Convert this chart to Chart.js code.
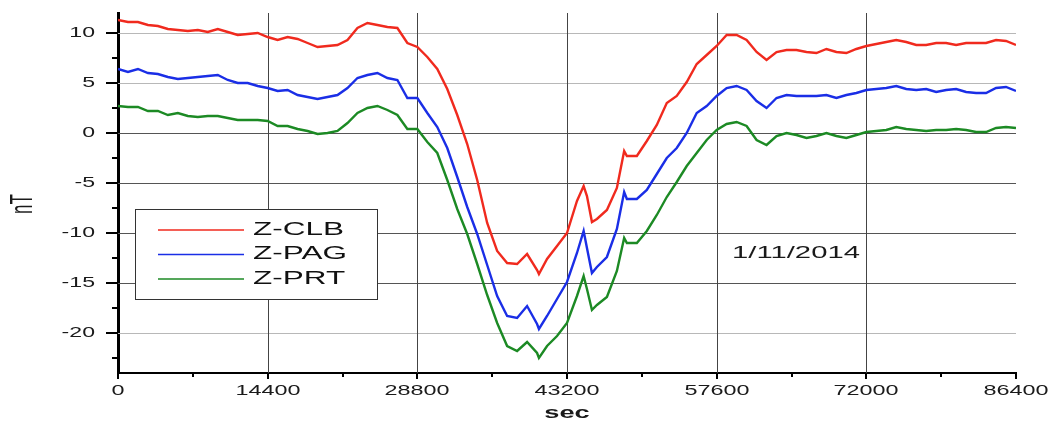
<!DOCTYPE html>
<html>
<head>
<meta charset="utf-8">
<script src="https://cdn.jsdelivr.net/npm/chart.js@4.4.1/dist/chart.umd.min.js"></script>
<style>
  html, body { margin: 0; padding: 0; background: #fff; }
  canvas { display: block; }
</style>
</head>
<body>
<canvas id="magChart" width="1052" height="426"></canvas>
<script>
// time of day in seconds (a few extra samples around the sharp spikes)
const sec = [
  0, 960, 1920, 2880, 3840, 4800, 5760, 6720, 7680, 8640,
  9600, 10560, 11520, 12480, 13440, 14400, 15360, 16320, 17280, 18240,
  19200, 20160, 21120, 22080, 23040, 24000, 24960, 25920, 26880, 27840,
  28800, 29760, 30720, 31680, 32640, 33600, 34560, 35520, 36480, 37440,
  38400, 39360, 40320, 40500, 41280, 42240, 43200, 44160, 44800, 45120,
  45600, 46080, 47040, 48000, 48700, 48960, 49920, 50880, 51840, 52800,
  53760, 54720, 55680, 56640, 57600, 58560, 59520, 60480, 61440, 62400,
  63360, 64320, 65280, 66240, 67200, 68160, 69120, 70080, 71040, 72000,
  72960, 73920, 74880, 75840, 76800, 77760, 78720, 79680, 80640, 81600,
  82560, 83520, 84480, 85440, 86400
];

const zClb = [
  11.3, 11.1, 11.1, 10.8, 10.7, 10.4, 10.3, 10.2, 10.3, 10.1,
  10.4, 10.1, 9.8, 9.9, 10.0, 9.6, 9.3, 9.6, 9.4, 9.0,
  8.6, 8.7, 8.8, 9.3, 10.5, 11.0, 10.8, 10.6, 10.5, 9.0,
  8.6, 7.6, 6.4, 4.4, 1.8, -1.1, -4.7, -9.0, -11.8, -13.0,
  -13.1, -12.1, -13.7, -14.1, -12.6, -11.3, -10.0, -6.8, -5.3, -6.3,
  -8.9, -8.6, -7.7, -5.5, -1.8, -2.3, -2.3, -0.8, 0.8, 3.0,
  3.7, 5.1, 6.9, 7.8, 8.7, 9.8, 9.8, 9.3, 8.1, 7.3,
  8.1, 8.3, 8.3, 8.1, 8.0, 8.4, 8.1, 8.0, 8.4, 8.7,
  8.9, 9.1, 9.3, 9.1, 8.8, 8.8, 9.0, 9.0, 8.8, 9.0,
  9.0, 9.0, 9.3, 9.2, 8.8
];

const zPag = [
  6.4, 6.1, 6.4, 6.0, 5.9, 5.6, 5.4, 5.5, 5.6, 5.7,
  5.8, 5.3, 5.0, 5.0, 4.7, 4.5, 4.2, 4.3, 3.8, 3.6,
  3.4, 3.6, 3.8, 4.5, 5.5, 5.8, 6.0, 5.5, 5.3, 3.5,
  3.5, 2.0, 0.6, -1.5, -4.4, -7.4, -10.1, -13.2, -16.3, -18.3,
  -18.5, -17.3, -19.1, -19.6, -18.3, -16.6, -14.9, -12.0, -9.8, -11.5,
  -14.0, -13.4, -12.4, -9.6, -5.9, -6.6, -6.6, -5.7, -4.1, -2.5,
  -1.5, 0.0, 2.0, 2.7, 3.7, 4.5, 4.7, 4.3, 3.2, 2.5,
  3.5, 3.8, 3.7, 3.7, 3.7, 3.8, 3.5, 3.8, 4.0, 4.3,
  4.4, 4.5, 4.7, 4.4, 4.3, 4.4, 4.1, 4.3, 4.4, 4.1,
  4.0, 4.0, 4.5, 4.6, 4.2
];

const zPrt = [
  2.7, 2.6, 2.6, 2.2, 2.2, 1.8, 2.0, 1.7, 1.6, 1.7,
  1.7, 1.5, 1.3, 1.3, 1.3, 1.2, 0.7, 0.7, 0.4, 0.2,
  -0.1, 0.0, 0.2, 1.0, 2.0, 2.5, 2.7, 2.3, 1.8, 0.4,
  0.4, -0.9, -2.0, -4.7, -7.6, -10.1, -13.1, -16.2, -19.0, -21.3,
  -21.8, -20.9, -22.0, -22.5, -21.3, -20.3, -19.0, -16.3, -14.3, -15.6,
  -17.7, -17.2, -16.4, -13.8, -10.5, -11.0, -11.0, -9.8, -8.2, -6.4,
  -4.9, -3.3, -2.0, -0.7, 0.3, 0.9, 1.1, 0.7, -0.7, -1.2,
  -0.3, 0.0, -0.2, -0.5, -0.3, 0.0, -0.3, -0.5, -0.2, 0.1,
  0.2, 0.3, 0.6, 0.4, 0.3, 0.2, 0.3, 0.3, 0.4, 0.3,
  0.1, 0.1, 0.5, 0.6, 0.5
];

const seriesNames = ['Z-CLB', 'Z-PAG', 'Z-PRT'];
const seriesColors = ['#f02a1e', '#1a2ee6', '#1c8a24'];
const xTicks = [0, 14400, 28800, 43200, 57600, 72000, 86400];
const yTicks = [-20, -15, -10, -5, 0, 5, 10];
const dateLabel = '1/11/2014';

const FONT = '"Liberation Sans", Arial, sans-serif';

function toPoints(values) {
  return values.map((v, k) => ({ x: sec[k], y: v }));
}

// the source picture is stretched sideways, so text is drawn with a horizontal scale
function wideText(ctx, text, x, y, font, sx, align) {
  ctx.save();
  ctx.translate(x, y);
  ctx.scale(sx, 1);
  ctx.font = font;
  ctx.textAlign = align;
  ctx.textBaseline = 'middle';
  ctx.fillText(text, 0, 0);
  ctx.restore();
}

// grid lines under the data
const gridLines = {
  id: 'gridLines',
  beforeDatasetsDraw(chart) {
    const ctx = chart.ctx;
    const xs = chart.scales.x;
    const ys = chart.scales.y;
    const area = chart.chartArea;
    ctx.save();
    ctx.lineWidth = 1;
    yTicks.forEach(v => {
      const py = Math.round(ys.getPixelForValue(v)) + 0.5;
      ctx.strokeStyle = [10, 5, -20].includes(v) ? '#b8b8b8' : '#555555';
      ctx.beginPath();
      ctx.moveTo(area.left, py);
      ctx.lineTo(area.right, py);
      ctx.stroke();
    });
    ctx.strokeStyle = '#444444';
    xTicks.slice(1, -1).forEach(v => {
      const px = Math.round(xs.getPixelForValue(v)) + 0.5;
      ctx.beginPath();
      ctx.moveTo(px, area.top);
      ctx.lineTo(px, area.bottom);
      ctx.stroke();
    });
    ctx.restore();
  }
};

const decorations = {
  id: 'decorations',
  afterDraw(chart) {
    const ctx = chart.ctx;
    const xs = chart.scales.x;
    const ys = chart.scales.y;
    const area = chart.chartArea;

    ctx.save();
    ctx.strokeStyle = '#000';
    ctx.fillStyle = '#1a1a1a';

    // y ticks, major and minor
    ctx.lineWidth = 2;
    yTicks.forEach(v => {
      const py = Math.round(ys.getPixelForValue(v));
      ctx.beginPath();
      ctx.moveTo(area.left - 12, py);
      ctx.lineTo(area.left, py);
      ctx.stroke();
      const m = ys.getPixelForValue(v - 2.5);
      ctx.beginPath();
      ctx.moveTo(area.left - 6, Math.round(m));
      ctx.lineTo(area.left, Math.round(m));
      ctx.stroke();
      wideText(ctx, String(v), area.left - 23, py, '14px ' + FONT, 1.65, 'right');
    });

    // x ticks, major and minor
    xTicks.forEach((v, k) => {
      const px = Math.round(xs.getPixelForValue(v));
      ctx.beginPath();
      ctx.moveTo(px, area.bottom);
      ctx.lineTo(px, area.bottom + 6);
      ctx.stroke();
      if (k < xTicks.length - 1) {
        const m = Math.round(xs.getPixelForValue(v + 7200));
        ctx.beginPath();
        ctx.moveTo(m, area.bottom);
        ctx.lineTo(m, area.bottom + 4);
        ctx.stroke();
      }
      wideText(ctx, String(v), px, area.bottom + 18, '15px ' + FONT, 1.56, 'center');
    });

    // axis titles
    ctx.save();
    ctx.translate(23, 204);
    ctx.scale(1.85, 1);
    ctx.rotate(-Math.PI / 2);
    ctx.font = '17px ' + FONT;
    ctx.textAlign = 'center';
    ctx.textBaseline = 'middle';
    ctx.fillText('nT', 0, 0);
    ctx.restore();
    wideText(ctx, 'sec', (area.left + area.right) / 2, 414, 'bold 16px ' + FONT, 1.7, 'center');

    // legend box
    const lx = area.left + 17, ly = 209, lw = 242, lh = 90;
    ctx.fillStyle = '#fff';
    ctx.fillRect(lx, ly, lw, lh);
    ctx.strokeStyle = '#333';
    ctx.lineWidth = 1;
    ctx.strokeRect(lx + 0.5, ly + 0.5, lw, lh);
    seriesNames.forEach((name, k) => {
      const ry = ly + 21 + k * 24.5;
      ctx.strokeStyle = seriesColors[k];
      ctx.lineWidth = 1.5;
      ctx.beginPath();
      ctx.moveTo(lx + 23, ry);
      ctx.lineTo(lx + 109, ry);
      ctx.stroke();
      ctx.fillStyle = '#111';
      wideText(ctx, name, lx + 118, ry, '18px ' + FONT, 1.75, 'left');
    });

    // date note
    ctx.fillStyle = '#1a1a1a';
    wideText(ctx, dateLabel, 732, 253, '17px ' + FONT, 1.72, 'left');

    ctx.restore();
  }
};

new Chart(document.getElementById('magChart').getContext('2d'), {
  type: 'line',
  data: {
    datasets: [
      { label: seriesNames[0], data: toPoints(zClb), borderColor: seriesColors[0] },
      { label: seriesNames[1], data: toPoints(zPag), borderColor: seriesColors[1] },
      { label: seriesNames[2], data: toPoints(zPrt), borderColor: seriesColors[2] }
    ]
  },
  options: {
    responsive: false,
    animation: false,
    devicePixelRatio: 1,
    layout: { padding: { top: 13, right: 36, left: 0, bottom: 0 } },
    elements: {
      line: { borderWidth: 2.4, tension: 0 },
      point: { radius: 0 }
    },
    plugins: {
      legend: { display: false },
      tooltip: { enabled: false }
    },
    scales: {
      x: {
        type: 'linear',
        min: 0,
        max: 86400,
        afterBuildTicks: s => { s.ticks = xTicks.map(v => ({ value: v })); },
        afterFit: s => { s.height = 53; },
        ticks: { display: false },
        grid: { display: false },
        border: { display: true, color: '#000', width: 2 }
      },
      y: {
        type: 'linear',
        min: -24,
        max: 12,
        afterBuildTicks: s => { s.ticks = yTicks.map(v => ({ value: v })); },
        afterFit: s => { s.width = 118; },
        ticks: { display: false },
        grid: { display: false },
        border: { display: true, color: '#000', width: 3 }
      }
    }
  },
  plugins: [gridLines, decorations]
});
</script>
</body>
</html>
